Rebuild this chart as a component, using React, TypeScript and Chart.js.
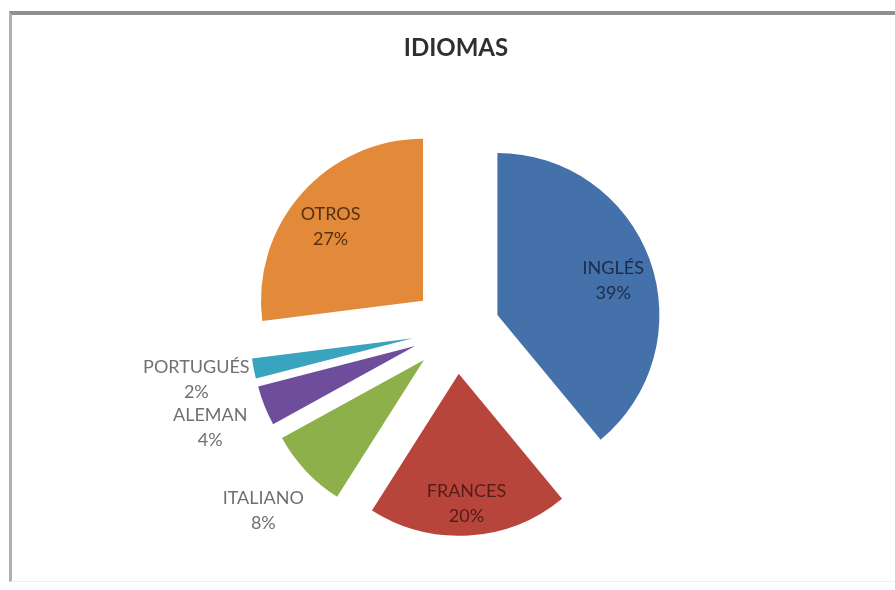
import React, { useEffect, useRef } from "react";
import { Chart, registerables } from "chart.js";

Chart.register(...registerables);

const chartTitle = "IDIOMAS";
const categories = ["INGLÉS", "FRANCES", "ITALIANO", "ALEMAN", "PORTUGUÉS", "OTROS"];
const percentages = [39, 20, 8, 4, 2, 27];

const sliceColors = ["#4571AA", "#B8453C", "#8DB04A", "#6E4E9A", "#3AA3BE", "#E38A3A"];
const labelColors = ["#1B2B4A", "#561B17", "#707070", "#707070", "#707070", "#553110"];

const EXPLODE = 44;
const RADIUS = 162;
const LABEL_FONT = "18px Lato";
const LINE_GAP = 25;
const INSIDE_DY = 7;

const explodePlugin = {
  id: "explodePie",
  beforeDatasetDraw(chart: any, args: any) {
    const ctx = chart.ctx;
    args.meta.data.forEach((arc: any) => {
      const { startAngle, endAngle } = arc.getProps(["startAngle", "endAngle"], true);
      const mid = (startAngle + endAngle) / 2;
      ctx.save();
      ctx.translate(Math.cos(mid) * EXPLODE, Math.sin(mid) * EXPLODE);
      arc.draw(ctx, chart.chartArea);
      ctx.restore();
    });
    return false;
  },
  afterDatasetsDraw(chart: any) {
    const meta = chart.getDatasetMeta(0);
    const ctx = chart.ctx;
    const values = chart.data.datasets[0].data as number[];
    const total = values.reduce((a, b) => a + b, 0);
    meta.data.forEach((arc: any, i: number) => {
      const { startAngle, endAngle, x, y, outerRadius } = arc.getProps(
        ["startAngle", "endAngle", "x", "y", "outerRadius"],
        true
      );
      const mid = (startAngle + endAngle) / 2;
      const pct = Math.round((values[i] / total) * 100);
      const inside = pct >= 10;
      const r = EXPLODE + outerRadius * (inside ? 0.76 : 1.36);
      const lx = x + Math.cos(mid) * r;
      const ly = y + Math.sin(mid) * r + (inside ? INSIDE_DY : 0);
      ctx.save();
      ctx.font = LABEL_FONT;
      ctx.fillStyle = labelColors[i];
      ctx.textAlign = "center";
      ctx.textBaseline = "middle";
      ctx.fillText(String(chart.data.labels[i]), lx, ly - LINE_GAP / 2);
      ctx.fillText(pct + "%", lx, ly + LINE_GAP / 2);
      ctx.restore();
    });
  },
};

export default function App() {
  const canvasRef = useRef<HTMLCanvasElement | null>(null);

  useEffect(() => {
    if (!canvasRef.current) return;
    const chart = new Chart(canvasRef.current, {
      type: "pie",
      data: {
        labels: categories,
        datasets: [
          {
            data: percentages,
            backgroundColor: sliceColors,
            borderWidth: 0,
          },
        ],
      },
      options: {
        responsive: false,
        animation: false,
        events: [],
        radius: RADIUS,
        layout: { padding: { left: 17, right: 0, top: 0, bottom: 20 } },
        plugins: {
          legend: { display: false },
          tooltip: { enabled: false },
          title: {
            display: true,
            text: chartTitle,
            color: "#2f2f2f",
            font: { family: "Lato", size: 24, weight: "bold" },
            padding: { top: 34, bottom: 27 },
          },
        },
      } as any,
      plugins: [explodePlugin],
    });
    return () => chart.destroy();
  }, []);

  return (
    <div
      style={{
        position: "absolute",
        left: 0,
        top: 0,
        width: 895,
        height: 590,
        background: "#ffffff",
        overflow: "hidden",
      }}
    >
      <div
        style={{
          position: "absolute",
          left: 9,
          top: 11,
          width: 900,
          height: 571,
          borderTop: "4px solid #8f8f8f",
          borderLeft: "3px solid #b0b0b0",
          borderBottom: "1px solid #eeeeee",
          boxSizing: "border-box",
        }}
      />
      <canvas
        ref={canvasRef}
        width={895}
        height={590}
        style={{ position: "absolute", left: 0, top: 0, display: "block" }}
      />
    </div>
  );
}
